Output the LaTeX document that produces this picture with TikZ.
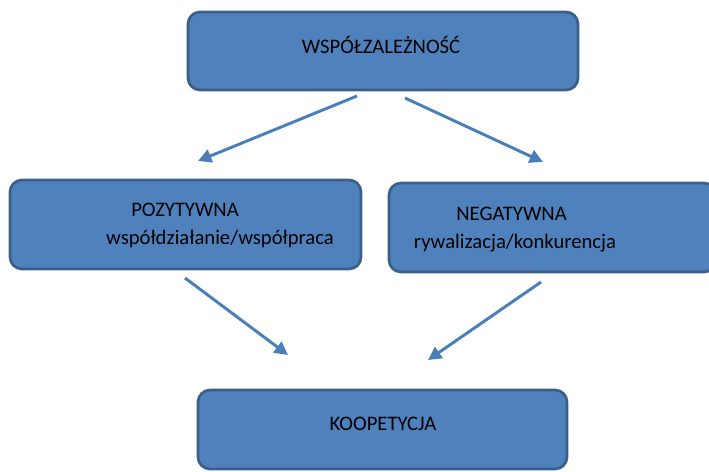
\documentclass[tikz,border=0pt]{standalone}
\usepackage{fontspec}
\setmainfont{Carlito}
\usetikzlibrary{arrows.meta}
\definecolor{boxfill}{HTML}{4F81BD}
\definecolor{boxedge}{HTML}{3A5F8B}
\definecolor{arrcol}{HTML}{4A7EBB}
\tikzset{
  box/.style={draw=boxedge, fill=boxfill, line width=2pt, rounded corners=9pt, inner sep=0pt},
  lbl/.style={font=\fontsize{15.5}{18}\selectfont, text=black, inner sep=0pt, anchor=center},
  arr/.style={draw=arrcol, line width=2.2pt, -{Triangle[length=10pt,width=10pt]}}
}
\begin{document}
\begin{tikzpicture}[x=0.75pt,y=-0.75pt]
\useasboundingbox (0,0) rectangle (709,471);
\clip (0,0) rectangle (709,471);
% boxes
\node[box, minimum width=292.5pt, minimum height=58.5pt] (top) at (383,51) {};
\node[box, minimum width=263.25pt, minimum height=66.75pt] (left) at (185.5,224.5) {};
\node[box, minimum width=245.25pt, minimum height=66.75pt] (right) at (552.5,227.5) {};
\node[box, minimum width=276.75pt, minimum height=59.25pt] (bottom) at (382.5,429.5) {};
% labels
\node[lbl] (ttop) at (381,45) {WSPÓŁZALEŻNOŚĆ};
\node[lbl] (tleft1) at (185,210) {POZYTYWNA};
\node[lbl] (tleft2) at (220,239) {współdziałanie/współpraca};
\node[lbl] (tright1) at (511.5,214) {NEGATYWNA};
\node[lbl] (tright2) at (515,243) {rywalizacja/konkurencja};
\node[lbl] (tbottom) at (383,424) {KOOPETYCJA};
% arrow ends
\coordinate (a1s) at (357,96);
\coordinate (a1e) at (198,161);
\coordinate (a2s) at (405,98);
\coordinate (a2e) at (543,162);
\coordinate (a3s) at (185,278);
\coordinate (a3e) at (288,355);
\coordinate (a4s) at (541,282);
\coordinate (a4e) at (428,360);
\draw[arr] (a1s) -- (a1e);
\draw[arr] (a2s) -- (a2e);
\draw[arr] (a3s) -- (a3e);
\draw[arr] (a4s) -- (a4e);
\end{tikzpicture}
\end{document}
